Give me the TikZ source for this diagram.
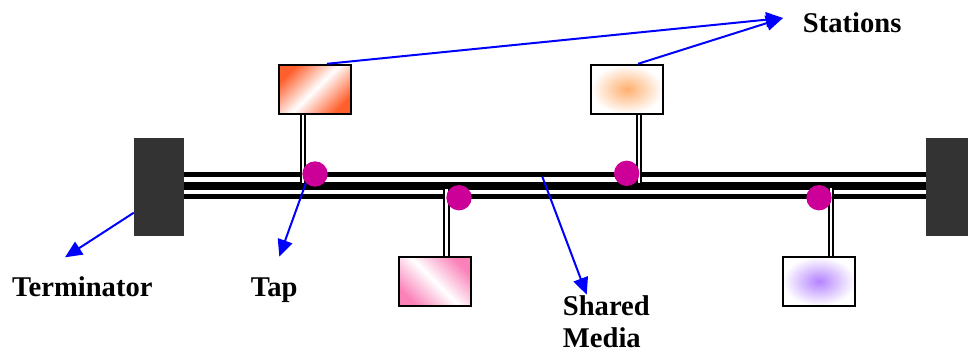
\documentclass[tikz,border=0pt]{standalone}
\usepackage{fontspec}
\setmainfont{Liberation Serif}
\usetikzlibrary{arrows.meta}
\definecolor{tapmag}{RGB}{204,0,153}
\definecolor{termgray}{RGB}{51,51,51}
\definecolor{stOrange}{RGB}{255,95,45}
\definecolor{stPink}{RGB}{250,130,185}
\definecolor{stPeach}{RGB}{255,175,110}
\definecolor{stViolet}{RGB}{180,130,255}
\definecolor{ptrblue}{RGB}{0,0,255}
\begin{document}
\begin{tikzpicture}[x=1pt,y=-1pt,
    station/.style={draw,line width=2pt,minimum width=72pt,minimum height=49pt,inner sep=0pt},
    term/.style={fill=termgray,minimum width=50pt,minimum height=98pt,inner sep=0pt},
    tap/.style={circle,fill=tapmag,minimum size=25.4pt,inner sep=0pt},
    drop/.style={double,double distance=2.6pt,line width=2pt},
    pointer/.style={ptrblue,line width=2pt,-{Triangle[length=17pt,width=15pt]}},
    lbl/.style={inner sep=0pt,font=\fontsize{28.6}{32}\selectfont\bfseries}]
    \useasboundingbox (0,0) rectangle (968,354);
    % terminators
    \node[term] (termL) at (159,187) {};
    \node[term] (termR) at (951,187) {};
    % bus: three lines
    \draw[line width=4.3pt] ([yshift=12.5pt]termL.east) -- ([yshift=12.5pt]termR.west);
    \draw[line width=8.3pt] ([yshift=1.1pt]termL.east) -- ([yshift=1.1pt]termR.west);
    \draw[line width=4.8pt] ([yshift=-9.8pt]termL.east) -- ([yshift=-9.8pt]termR.west);
    % stations
    \node[station,top color=stOrange,bottom color=stOrange,middle color=white,shading angle=45] (st1) at (315,89.3) {};
    \node[station,top color=stPink,bottom color=stPink,middle color=white,shading angle=-45] (st2) at (434.5,281.3) {};
    \node[station,inner color=stPeach,outer color=white] (st3) at (627,89.3) {};
    \node[station,inner color=stViolet,outer color=white] (st4) at (819,281.3) {};
    % drop cables
    \draw[drop] ([xshift=-12pt]st1.south) -- ++(0,68);
    \draw[drop] ([xshift=12pt]st3.south) -- ++(0,68);
    \draw[drop] ([xshift=12pt]st2.north) -- ++(0,-67);
    \draw[drop] ([xshift=12pt]st4.north) -- ++(0,-67.5);
    % taps
    \node[tap] (tap1) at (315,174) {};
    \node[tap] (tap2) at (459,197.7) {};
    \node[tap] (tap3) at (626.7,173.3) {};
    \node[tap] (tap4) at (819,197.7) {};
    % labels
    \node[lbl,anchor=base west] (lblStations) at (802.7,32) {Stations};
    \node[lbl,anchor=base west] (lblTerm) at (12,296.7) {Terminator};
    \node[lbl,anchor=base west] (lblTap) at (250.7,296.7) {Tap};
    \node[lbl,anchor=north west,align=left] (lblMedia) at (562.7,295) {Shared\\Media};
    % pointers
    \coordinate (tipStations) at (783,18);
    \coordinate (tipTerm) at (65,257.3);
    \coordinate (tipTap) at (279.3,256.7);
    \coordinate (busPt) at (542.3,176.7);
    \coordinate (tipMedia) at (586.7,294.7);
    \draw[pointer] ([xshift=12pt]st1.north) -- (tipStations);
    \draw[pointer] ([xshift=11pt]st3.north) -- (tipStations);
    \draw[pointer] ([yshift=-25.7pt]termL.west) -- (tipTerm);
    \draw[pointer] (tap1.south west) -- (tipTap);
    \draw[pointer] (busPt) -- (tipMedia);
\end{tikzpicture}
\end{document}
